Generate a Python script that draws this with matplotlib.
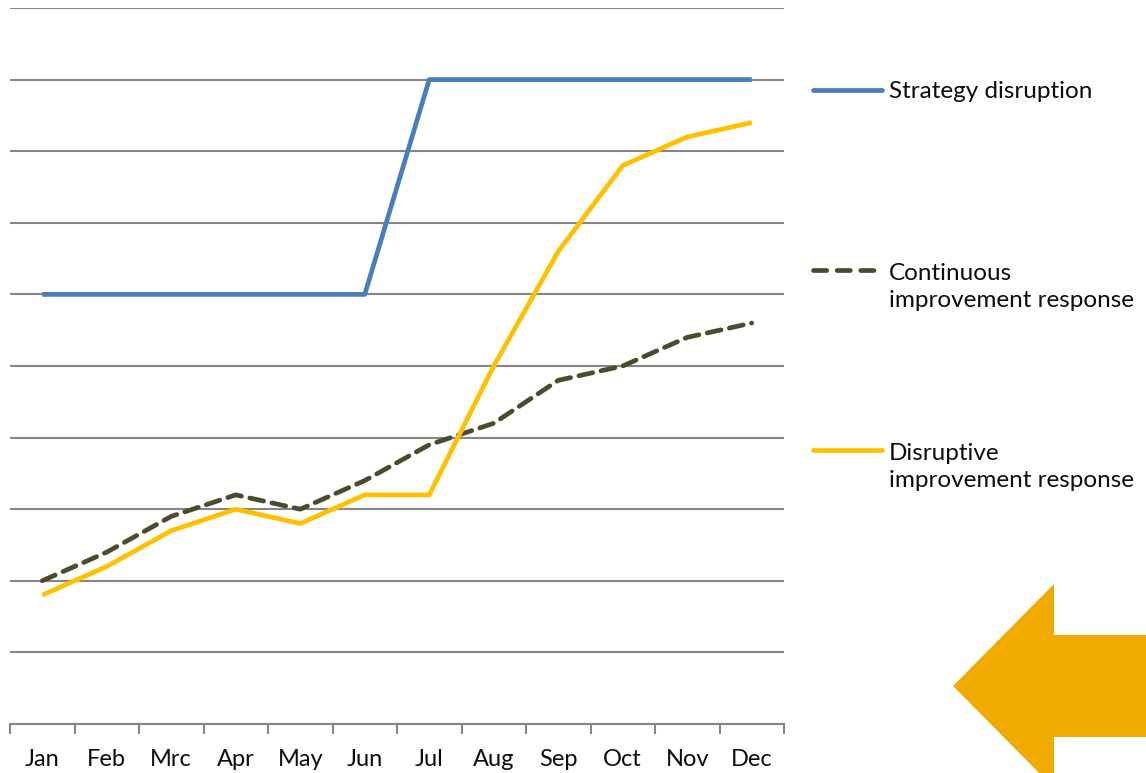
import matplotlib
matplotlib.use("Agg")
import matplotlib.pyplot as plt
from matplotlib.patches import Polygon
from matplotlib.lines import Line2D

months = ["Jan", "Feb", "Mrc", "Apr", "May", "Jun", "Jul", "Aug", "Sep", "Oct", "Nov", "Dec"]
strategy = [6, 6, 6, 6, 6, 6, 9, 9, 9, 9, 9, 9]
continuous = [2.0, 2.4, 2.9, 3.2, 3.0, 3.4, 3.9, 4.2, 4.8, 5.0, 5.4, 5.6]
disruptive = [1.8, 2.2, 2.7, 3.0, 2.8, 3.2, 3.2, 5.0, 6.6, 7.8, 8.2, 8.4]
labels = ["Strategy disruption", "Continuous\nimprovement response", "Disruptive\nimprovement response"]

plt.rcParams['font.family'] = ['Lato', 'DejaVu Sans']

W, H = 1146, 773
fig = plt.figure(figsize=(W / 100, H / 100), dpi=100)
ax = fig.add_axes([10 / W, (H - 724) / H, 774 / W, 716 / H])

x = list(range(len(months)))
blue = "#4A7EBB"
dark = "#4D4A2E"
yellow = "#FFC000"
ax.plot(x, strategy, color=blue, lw=3.4, solid_capstyle='butt', zorder=3)
ax.plot(x, continuous, color=dark, lw=3.4, dashes=(3.0, 1.8), dash_capstyle='round', zorder=3)
ax.plot(x, disruptive, color=yellow, lw=3.4, solid_capstyle='butt', zorder=4)

ax.set_xlim(-0.5, len(months) - 0.5)
ax.set_ylim(0, 10)
ax.set_yticks(range(0, 11))
ax.yaxis.grid(True, color="#868686", lw=1.5)
ax.set_axisbelow(True)
ax.tick_params(axis='y', left=False, labelleft=False)
for s in ['top', 'right', 'left']:
    ax.spines[s].set_visible(False)
ax.spines['bottom'].set_color("#868686")
ax.spines['bottom'].set_linewidth(1.5)
ax.set_xticks([i - 0.5 for i in range(len(months) + 1)], minor=False)
ax.set_xticklabels([])
ax.tick_params(axis='x', which='major', length=7, width=1.5, color="#868686")
ax.set_xticks(x, minor=True)
ax.set_xticklabels(months, minor=True, fontsize=17, color="#0d0d0d")
ax.tick_params(axis='x', which='minor', length=0, pad=18)

def fy(py):
    return (H - py) / H
def fx(px):
    return px / W

fig.add_artist(Line2D([fx(813), fx(882)], [fy(90), fy(90)], color=blue, lw=3.4, solid_capstyle='round'))
fig.add_artist(Line2D([fx(813), fx(882)], [fy(270), fy(270)], color=dark, lw=3.4,
                      dashes=(2.8, 2.2), dash_capstyle='round'))
fig.add_artist(Line2D([fx(813), fx(882)], [fy(450), fy(450)], color=yellow, lw=3.4, solid_capstyle='round'))
for py, lab in zip([91, 287, 467], labels):
    fig.text(fx(889), fy(py), lab, fontsize=17.5, color="#0d0d0d", va='center', ha='left',
             linespacing=1.3)

arrow = Polygon([[fx(953), fy(686)], [fx(1054), fy(584)], [fx(1054), fy(635)], [fx(1150), fy(635)],
                 [fx(1150), fy(737)], [fx(1054), fy(737)], [fx(1054), fy(788)]],
                closed=True, transform=fig.transFigure, color="#F0AB00", lw=0)
fig.add_artist(arrow)

fig.savefig("out.png", dpi=100)
